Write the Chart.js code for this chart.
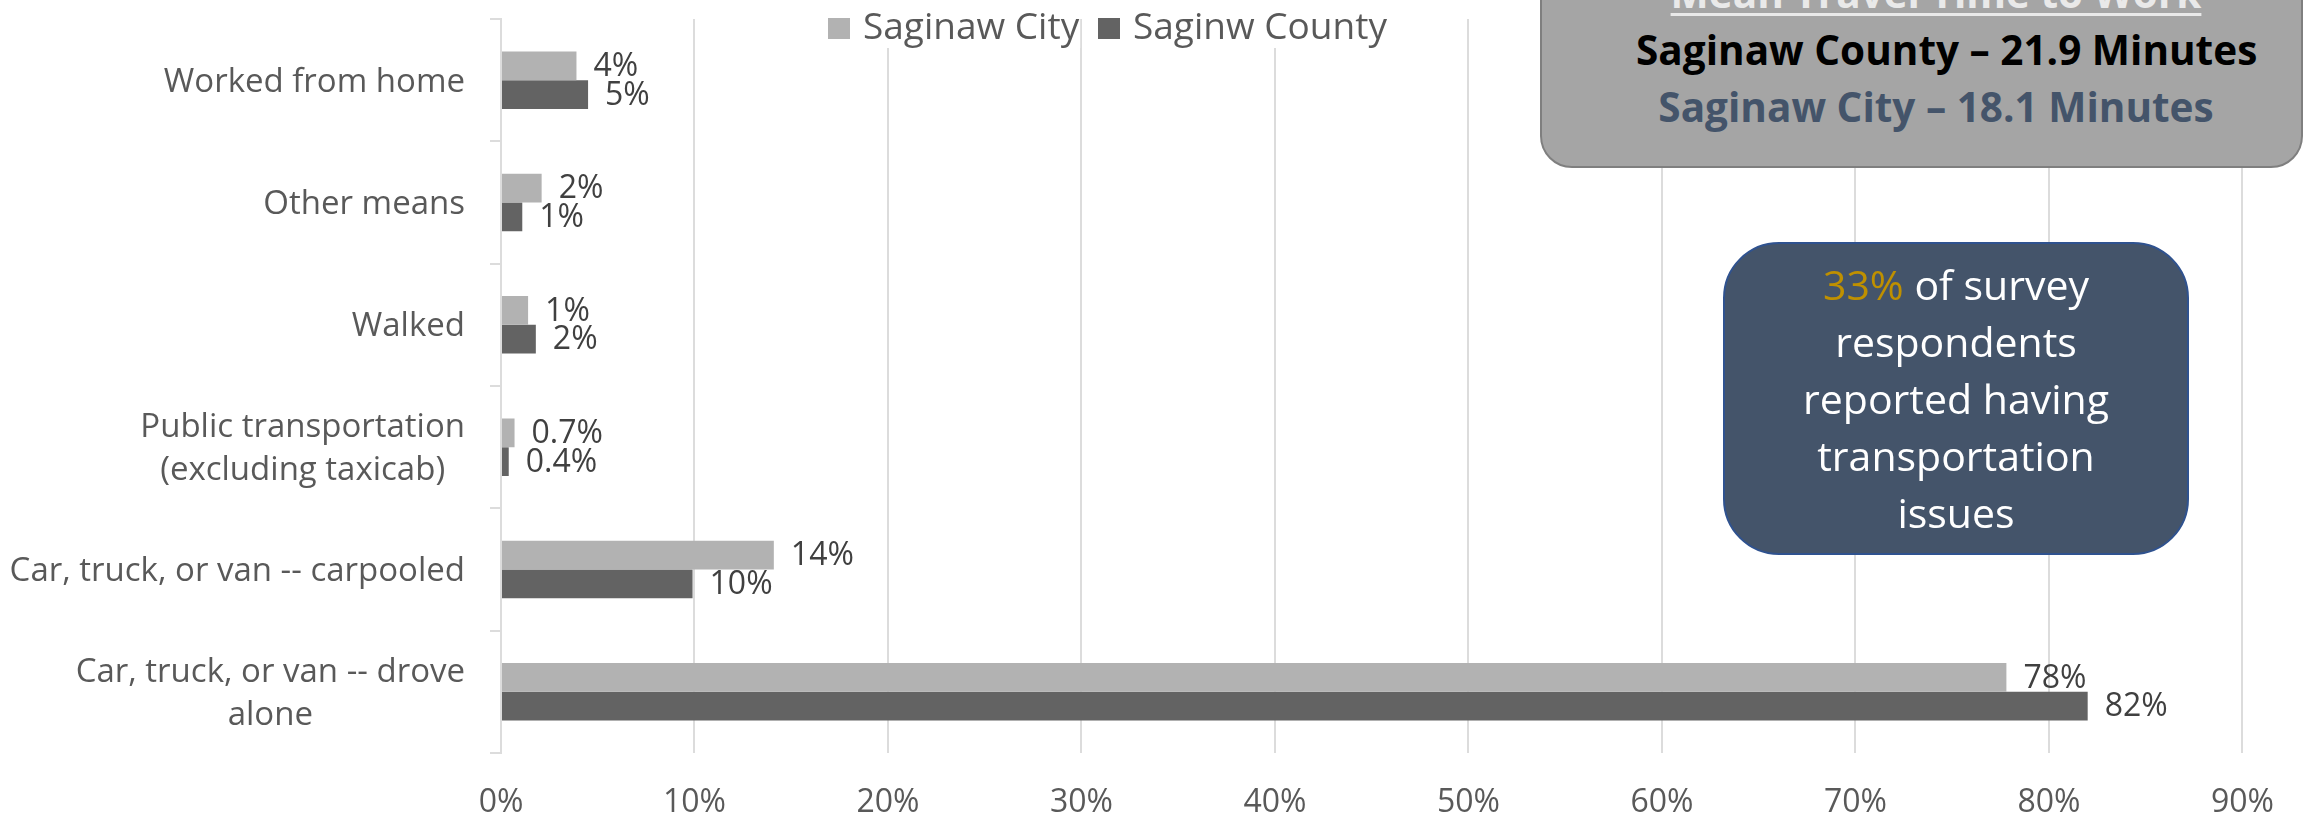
<!DOCTYPE html>
<html>
<head>
<meta charset="utf-8">
<script src="https://cdn.jsdelivr.net/npm/chart.js@4/dist/chart.umd.min.js"></script>
<style>
  html, body { margin: 0; padding: 0; background: #ffffff; }
  #wrap { position: relative; width: 2305px; height: 819px; overflow: hidden; background: #ffffff; }
  #chart { position: absolute; left: 0; top: 0; }
  .note-travel {
    position: absolute; left: 1540px; top: -80px; width: 763px; height: 248px;
    box-sizing: border-box; background: #a5a5a5; border: 2px solid #7f7f7f; border-radius: 32px;
  }
  .note-travel-text {
    position: absolute; left: 1636px; top: -36px; width: 600px; text-align: center;
    font-family: "Open Sans", sans-serif; font-weight: 700; font-size: 40.5px; line-height: 57px;
    white-space: nowrap;
  }
  .note-travel-text .title { color: #e9e9e9; text-decoration: underline; text-decoration-thickness: 3px; text-underline-offset: 5px; }
  .note-travel-text .county { color: #000000; }
  .note-travel-text .city { color: #44546a; }
  .note-survey {
    position: absolute; left: 1723px; top: 242px; width: 466px; height: 313px;
    box-sizing: border-box; background: #44546a; border: 2px solid #2f528f; border-radius: 56px;
  }
  .note-survey-text {
    position: absolute; left: 1723px; top: 256px; width: 466px; text-align: center;
    font-family: "Open Sans", sans-serif; font-size: 41px; line-height: 57px; color: #ffffff;
  }
  .note-survey-text .hi { color: #bf9000; }
</style>
</head>
<body>
<div id="wrap">
  <canvas id="chart" width="2305" height="819"></canvas>
  <div class="note-travel"></div>
  <div class="note-travel-text">
    <div class="title">Mean Travel Time to Work</div>
    <div class="county">Saginaw County – 21.9 Minutes</div>
    <div class="city">Saginaw City – 18.1 Minutes</div>
  </div>
  <div class="note-survey"></div>
  <div class="note-survey-text">
    <div><span class="hi">33%</span> of survey</div>
    <div>respondents</div>
    <div>reported having</div>
    <div>transportation</div>
    <div>issues</div>
  </div>
</div>
<script>
// Means of transportation to work, share of workers (%)
const categories = [
  "Worked from home",
  "Other means",
  "Walked",
  ["Public transportation", "(excluding taxicab)"],
  "Car, truck, or van -- carpooled",
  ["Car, truck, or van -- drove", "alone"]
];
const seriesNames = ["Saginaw City", "Saginw County"];
const cityValues   = [3.9, 2.1, 1.4, 0.7, 14.1, 77.8];
const countyValues = [4.5, 1.1, 1.8, 0.4,  9.9, 82.0];
const xTicks = [0, 10, 20, 30, 40, 50, 60, 70, 80, 90];

const cityColor = "#b2b2b2";
const countyColor = "#636363";
const gridColor = "#dcdcdc";
const textGray = "#595959";
const FONT = "'Open Sans', sans-serif";

function pctLabel(v) {
  return (v < 1 ? v.toFixed(1) : String(Math.round(v))) + "%";
}

// Value labels at the end of each bar
const valueLabels = {
  id: "valueLabels",
  afterDatasetsDraw(chart) {
    const ctx = chart.ctx;
    ctx.save();
    ctx.font = "32px " + FONT;
    ctx.fillStyle = "#404040";
    ctx.textAlign = "left";
    ctx.textBaseline = "middle";
    chart.data.datasets.forEach((ds, di) => {
      chart.getDatasetMeta(di).data.forEach((bar, i) => {
        ctx.fillText(pctLabel(ds.data[i]), bar.x + 17, bar.y + 1);
      });
    });
    ctx.restore();
  }
};

// Category labels: two-line labels keep their lines centred on each other
// with the block right-aligned; all labels nudged slightly down
const tuneCategoryLabels = {
  id: "tuneCategoryLabels",
  beforeDraw(chart) {
    const sc = chart.scales.y;
    const ctx = chart.ctx;
    sc.getLabelItems(chart.chartArea).forEach(it => {
      if (it._tuned) return;
      let [tx, ty] = it.options.translation;
      if (Array.isArray(it.label)) {
        ctx.save();
        ctx.font = it.font.string;
        const w = Math.max(...it.label.map(s => ctx.measureText(s).width));
        ctx.restore();
        it.options.textAlign = "center";
        tx -= w / 2;
      }
      it.options.translation = [tx, ty + 2];
      it._tuned = true;
    });
  }
};

// Legend drawn across the top of the plot
const topLegend = {
  id: "topLegend",
  afterDraw(chart) {
    const ctx = chart.ctx;
    const colors = [cityColor, countyColor];
    const startX = [828, 1098];
    ctx.save();
    ctx.font = "37px " + FONT;
    ctx.textBaseline = "alphabetic";
    seriesNames.forEach((name, i) => {
      const x = startX[i];
      const tw = ctx.measureText(name).width;
      ctx.fillStyle = "#ffffff";
      ctx.fillRect(x - 2, 12, 22 + 12 + tw + 4, 36);
      ctx.fillStyle = colors[i];
      ctx.fillRect(x, 18, 22, 21);
      ctx.fillStyle = textGray;
      ctx.fillText(name, x + 35, 39);
    });
    ctx.restore();
  }
};

new Chart(document.getElementById("chart"), {
  type: "bar",
  data: {
    labels: categories,
    datasets: [
      { label: seriesNames[0], data: cityValues, backgroundColor: cityColor },
      { label: seriesNames[1], data: countyValues, backgroundColor: countyColor }
    ]
  },
  options: {
    indexAxis: "y",
    responsive: false,
    animation: false,
    devicePixelRatio: 1,
    categoryPercentage: 0.47,
    barPercentage: 1.0,
    layout: { padding: { top: 19, right: 57, left: 0, bottom: 0 } },
    plugins: {
      legend: { display: false },
      tooltip: { enabled: false }
    },
    scales: {
      x: {
        min: 0,
        max: 90,
        afterBuildTicks(scale) { scale.ticks = xTicks.map(v => ({ value: v })); },
        afterFit(scale) { scale.height = 66; },
        grid: { color: gridColor, lineWidth: 2, drawTicks: false },
        border: { display: false },
        ticks: {
          padding: 31,
          color: textGray,
          font: { family: FONT, size: 32 },
          callback: v => v + "%"
        }
      },
      y: {
        afterFit(scale) {
          scale.width = 501;
          scale.paddingTop = 0;
          scale.paddingBottom = 0;
        },
        grid: { drawOnChartArea: false, drawTicks: true, tickLength: 11, color: gridColor, lineWidth: 2 },
        border: { display: true, color: gridColor, width: 2 },
        ticks: {
          autoSkip: false,
          padding: 25,
          color: textGray,
          font: { family: FONT, size: 33, lineHeight: 1.3 }
        }
      }
    }
  },
  plugins: [tuneCategoryLabels, valueLabels, topLegend]
});
</script>
</body>
</html>
